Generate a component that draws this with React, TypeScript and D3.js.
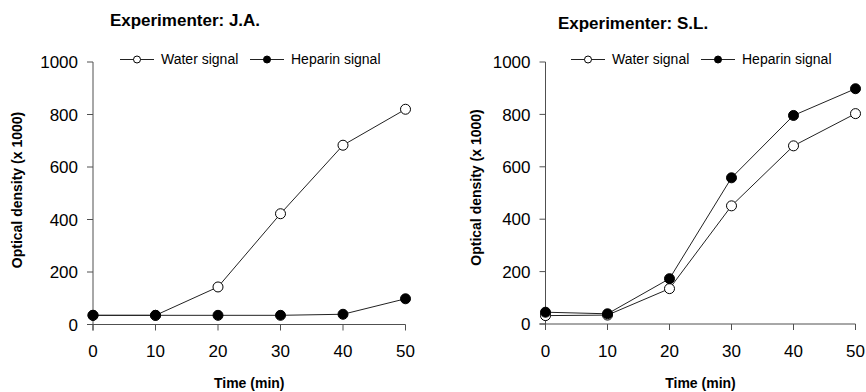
import React from "react";
import * as d3 from "d3";

const times = [0, 10, 20, 30, 40, 50];
const xTicks = [0, 10, 20, 30, 40, 50];
const yTicks = [0, 200, 400, 600, 800, 1000];
const jaWater = [35, 35, 143, 422, 683, 820];
const jaHeparin = [35, 35, 35, 35, 39, 98];
const slWater = [32, 34, 135, 451, 680, 803];
const slHeparin = [45, 39, 173, 558, 796, 898];
const titles = ["Experimenter: J.A.", "Experimenter: S.L."];
const seriesNames = ["Water signal", "Heparin signal"];
const xLabel = "Time (min)";
const yLabel = "Optical density (x 1000)";

const FONT = "Arial, 'Liberation Sans', sans-serif";

type PanelProps = {
  title: string;
  water: number[];
  heparin: number[];
  x0: number;
  x1: number;
  y0: number;
  y1: number;
  titleX: number;
  titleY: number;
  yLabelX: number;
  yLabelY: number;
  legendX: number[];
};

function Panel(p: PanelProps) {
  const x = d3.scaleLinear().domain([0, 50]).range([p.x0, p.x1]);
  const y = d3.scaleLinear().domain([0, 1000]).range([p.y0, p.y1]);
  const line = d3
    .line<number>()
    .x((_, i) => x(times[i]))
    .y((d) => y(d));
  const axisColor = "#505050";
  const series = [
    { vals: p.water, fill: "#fff" },
    { vals: p.heparin, fill: "#000" },
  ];
  return (
    <g>
      <text
        x={p.titleX}
        y={p.titleY}
        textAnchor="middle"
        fontFamily={FONT}
        fontWeight="bold"
        fontSize={17}
      >
        {p.title}
      </text>
      {/* axes */}
      <line x1={x(0)} x2={x(0)} y1={y(1000)} y2={y(0) + 6} stroke={axisColor} strokeWidth={1} />
      <line x1={x(0) - 6} x2={x(50)} y1={y(0)} y2={y(0)} stroke={axisColor} strokeWidth={1} />
      {yTicks.map((t) => (
        <g key={"y" + t}>
          <line x1={x(0) - 6} x2={x(0)} y1={y(t)} y2={y(t)} stroke={axisColor} />
          <text
            x={x(0) - 15}
            y={y(t)}
            dy="0.36em"
            textAnchor="end"
            fontFamily={FONT}
            fontSize={17}
          >
            {t}
          </text>
        </g>
      ))}
      {xTicks.map((t) => (
        <g key={"x" + t}>
          <line x1={x(t)} x2={x(t)} y1={y(0)} y2={y(0) + 6} stroke={axisColor} />
          <text
            x={x(t)}
            y={357}
            textAnchor="middle"
            fontFamily={FONT}
            fontSize={17}
          >
            {t}
          </text>
        </g>
      ))}
      <text
        x={(x(0) + x(50)) / 2}
        y={388}
        textAnchor="middle"
        fontFamily={FONT}
        fontWeight="bold"
        fontSize={14}
      >
        {xLabel}
      </text>
      <text
        transform={`translate(${p.yLabelX},${p.yLabelY}) rotate(-90)`}
        textAnchor="middle"
        dy="0.35em"
        fontFamily={FONT}
        fontWeight="bold"
        fontSize={14}
      >
        {yLabel}
      </text>
      {/* data */}
      {series.map((s, si) => (
        <path key={"l" + si} d={line(s.vals) || ""} fill="none" stroke="#222" strokeWidth={1} />
      ))}
      {series.map((s, si) => (
        <g key={"m" + si}>
          {s.vals.map((v, i) => (
            <circle
              key={i}
              cx={x(times[i])}
              cy={y(v)}
              r={5}
              fill={s.fill}
              stroke="#000"
              strokeWidth={1}
            />
          ))}
        </g>
      ))}
      {/* legend */}
      {series.map((s, si) => (
        <g key={"lg" + si}>
          <line
            x1={p.legendX[si]}
            x2={p.legendX[si] + 34}
            y1={59.5}
            y2={59.5}
            stroke="#222"
            strokeWidth={1}
          />
          <circle cx={p.legendX[si] + 17} cy={59.5} r={3.5} fill={s.fill} stroke="#000" strokeWidth={1} />
          <text
            x={p.legendX[si] + 41}
            y={64}
            fontFamily={FONT}
            fontSize={14}
          >
            {seriesNames[si]}
          </text>
        </g>
      ))}
    </g>
  );
}

export default function App() {
  return (
    <svg
      width={866}
      height={392}
      style={{ position: "absolute", left: 0, top: 0, background: "#fff" }}
    >
      <rect width={866} height={392} fill="#fff" />
      <Panel
        title={titles[0]}
        water={jaWater}
        heparin={jaHeparin}
        x0={93}
        x1={405.5}
        y0={324.5}
        y1={62}
        titleX={185}
        titleY={26}
        yLabelX={17.5}
        yLabelY={190}
        legendX={[120, 250]}
      />
      <Panel
        title={titles[1]}
        water={slWater}
        heparin={slHeparin}
        x0={545.5}
        x1={855.5}
        y0={324}
        y1={62}
        titleX={633}
        titleY={29}
        yLabelX={476}
        yLabelY={187.5}
        legendX={[571, 701]}
      />
    </svg>
  );
}
